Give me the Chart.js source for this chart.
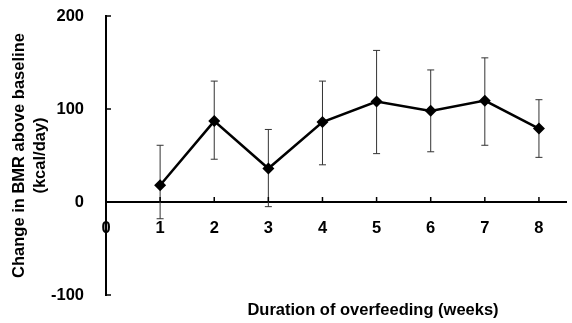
<!DOCTYPE html>
<html>
<head>
<meta charset="utf-8">
<script src="https://cdn.jsdelivr.net/npm/chart.js@4/dist/chart.umd.min.js"></script>
<style>
html,body{margin:0;padding:0;background:#fff;}
#wrap{width:572px;height:323px;}
</style>
</head>
<body>
<div id="wrap"><canvas id="c" width="572" height="323"></canvas></div>
<script>
const weeks = [1, 2, 3, 4, 5, 6, 7, 8];
const meanChange = [18, 87, 36, 86, 108, 98, 109, 79];
const upperBound = [61, 130, 78, 130, 163, 142, 155, 110];
const lowerBound = [-18, 46, -5, 40, 52, 54, 61, 48];
const yTicks = [-100, 0, 100, 200];
const xTicks = [0, 1, 2, 3, 4, 5, 6, 7, 8];
const yTitle = ['Change in BMR above baseline', '(kcal/day)'];
const xTitle = 'Duration of overfeeding (weeks)';

const FONT = '"Liberation Sans", Arial, Helvetica, sans-serif';

const errorBars = {
  id: 'errorBars',
  beforeDatasetsDraw(chart) {
    const {ctx, scales: {x, y}} = chart;
    ctx.save();
    ctx.strokeStyle = '#333';
    ctx.lineWidth = 1;
    weeks.forEach((w, i) => {
      const px = x.getPixelForValue(w);
      const pt = y.getPixelForValue(upperBound[i]);
      const pb = y.getPixelForValue(lowerBound[i]);
      ctx.beginPath();
      ctx.moveTo(px, pt); ctx.lineTo(px, pb);
      ctx.moveTo(px - 3.5, pt); ctx.lineTo(px + 3.5, pt);
      ctx.moveTo(px - 3.5, pb); ctx.lineTo(px + 3.5, pb);
      ctx.stroke();
    });
    ctx.restore();
  }
};

const innerTicks = {
  id: 'innerTicks',
  afterDraw(chart) {
    const {ctx, scales: {x, y}} = chart;
    ctx.save();
    ctx.strokeStyle = '#000';
    ctx.lineWidth = 1.5;
    const ax = x.getPixelForValue(0);
    const ay = y.getPixelForValue(0);
    yTicks.forEach(v => {
      const py = y.getPixelForValue(v);
      ctx.beginPath(); ctx.moveTo(ax, py); ctx.lineTo(ax + 5, py); ctx.stroke();
    });
    xTicks.slice(1).forEach(v => {
      const px = x.getPixelForValue(v);
      ctx.beginPath(); ctx.moveTo(px, ay); ctx.lineTo(px, ay - 5); ctx.stroke();
    });
    ctx.fillStyle = '#000';
    ctx.font = 'bold 16.5px ' + FONT;
    ctx.textAlign = 'center';
    ctx.textBaseline = 'middle';
    ctx.fillText(xTitle, 373, 310);
    ctx.restore();
  }
};

new Chart(document.getElementById('c'), {
  type: 'line',
  data: {
    datasets: [{
      data: weeks.map((w, i) => ({x: w, y: meanChange[i]})),
      borderColor: '#000',
      backgroundColor: '#000',
      borderWidth: 2.5,
      pointStyle: 'rectRot',
      pointRadius: 6,
      pointBorderWidth: 0,
      tension: 0,
      clip: false
    }]
  },
  options: {
    responsive: false,
    animation: false,
    devicePixelRatio: 1,
    layout: {padding: {top: 16, bottom: 28, left: 0, right: 0}},
    plugins: {legend: {display: false}, tooltip: {enabled: false}},
    scales: {
      x: {
        type: 'linear',
        position: {y: 0},
        min: 0,
        max: 8.5,
        afterBuildTicks: s => { s.ticks = xTicks.map(v => ({value: v})); },
        afterFit: s => { s.paddingLeft = 0; s.paddingRight = 0; },
        grid: {display: false},
        border: {display: true, color: '#000', width: 2},
        ticks: {color: '#000', padding: 9, maxRotation: 0,
          font: {family: FONT, size: 16.5, weight: 'bold'}}
      },
      y: {
        position: 'left',
        min: -100,
        max: 200,
        afterBuildTicks: s => { s.ticks = yTicks.map(v => ({value: v})); },
        afterFit: s => { s.width = 106; s.paddingTop = 0; s.paddingBottom = 0; },
        grid: {display: false},
        border: {display: true, color: '#000', width: 2},
        ticks: {color: '#000', padding: 14,
          font: {family: FONT, size: 16.5, weight: 'bold'}},
        title: {display: true, text: yTitle, color: '#000',
          padding: {top: 9, bottom: 0},
          font: {family: FONT, size: 16.5, weight: 'bold', lineHeight: 1.27}}
      }
    }
  },
  plugins: [errorBars, innerTicks]
});
</script>
</body>
</html>
